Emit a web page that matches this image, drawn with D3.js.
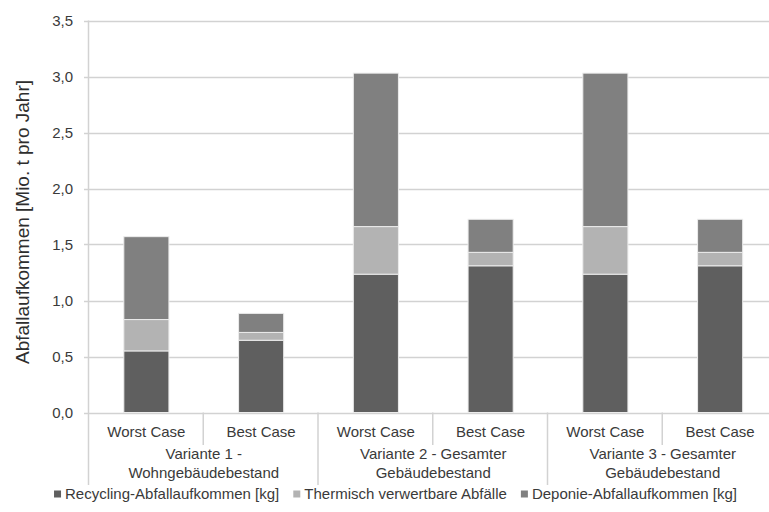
<!DOCTYPE html>
<html>
<head>
<meta charset="utf-8">
<script src="https://cdn.jsdelivr.net/npm/d3@7"></script>
<style>
  html, body { margin: 0; padding: 0; background: #fff; }
  svg { display: block; font-family: "Liberation Sans", Arial, sans-serif; }
</style>
</head>
<body>
<svg id="chart" width="769" height="512"></svg>
<script>
// Categories (inner level) and their groups (outer level)
const cases = ["Worst Case", "Best Case", "Worst Case", "Best Case", "Worst Case", "Best Case"];
const groups = [
  ["Variante 1 -", "Wohngebäudebestand"],
  ["Variante 2 - Gesamter", "Gebäudebestand"],
  ["Variante 3 - Gesamter", "Gebäudebestand"]
];
const seriesNames = ["Recycling-Abfallaufkommen [kg]", "Thermisch verwertbare Abfälle", "Deponie-Abfallaufkommen [kg]"];
const recycling = [0.55, 0.645, 1.235, 1.31, 1.235, 1.31];
const thermisch = [0.28, 0.07, 0.425, 0.12, 0.425, 0.12];
const deponie  = [0.74, 0.17, 1.37, 0.295, 1.37, 0.295];
const yTicks = [0, 0.5, 1.0, 1.5, 2.0, 2.5, 3.0, 3.5];
const yTitle = "Abfallaufkommen [Mio. t pro Jahr]";
const colors = ["#5f5f5f", "#b3b3b3", "#808080"];

const svg = d3.select("#chart");
const plotLeft = 89, plotRight = 777.5, plotTop = 20.5, plotBottom = 412.5;

const idx = d3.range(cases.length);
const x = d3.scaleBand().domain(idx).range([plotLeft, plotRight]).padding(0);
const y = d3.scaleLinear().domain([0, 3.5]).range([plotBottom, plotTop]);
const barW = x.bandwidth() * 0.393;

const fmt = v => d3.format(".1f")(v).replace(".", ",");
const textColor = "#3a3a3a";
const lineColor = "#d2d2d2";
const labelSize = 15;

// Horizontal gridlines with outside tick marks
svg.append("g")
  .selectAll("line")
  .data(yTicks)
  .join("line")
  .attr("x1", plotLeft - 5)
  .attr("x2", plotRight)
  .attr("y1", d => Math.round(y(d)) + 0.5)
  .attr("y2", d => Math.round(y(d)) + 0.5)
  .attr("stroke", lineColor)
  .attr("stroke-width", 1.5);

// Y tick labels
svg.append("g")
  .selectAll("text")
  .data(yTicks)
  .join("text")
  .attr("x", 73)
  .attr("y", d => y(d))
  .attr("dy", "0.35em")
  .attr("text-anchor", "end")
  .attr("font-size", labelSize)
  .attr("fill", textColor)
  .text(fmt);

// Stacked bars
const rows = idx.map(i => ({ i, recycling: recycling[i], thermisch: thermisch[i], deponie: deponie[i] }));
const stack = d3.stack().keys(["recycling", "thermisch", "deponie"]);
const layers = stack(rows);

svg.append("g")
  .selectAll("g")
  .data(layers)
  .join("g")
  .attr("fill", (d, k) => colors[k])
  .selectAll("rect")
  .data(d => d)
  .join("rect")
  .attr("x", d => x(d.data.i) + (x.bandwidth() - barW) / 2)
  .attr("y", d => y(d[1]))
  .attr("width", barW)
  .attr("height", d => y(d[0]) - y(d[1]))
  .attr("stroke", "#ececec")
  .attr("stroke-width", 1);

// Vertical axis line
svg.append("line")
  .attr("x1", plotLeft - 0.5).attr("x2", plotLeft - 0.5)
  .attr("y1", plotTop).attr("y2", 485)
  .attr("stroke", lineColor).attr("stroke-width", 1.5);

// Category separators: short between cases, long between groups
idx.slice(1).forEach(i => {
  const xx = x(i) - 0.5;
  const long = i % 2 === 0;
  svg.append("line")
    .attr("x1", xx).attr("x2", xx)
    .attr("y1", plotBottom).attr("y2", long ? 485 : 445)
    .attr("stroke", lineColor).attr("stroke-width", 1.5);
});

// Case labels
svg.append("g")
  .selectAll("text")
  .data(idx)
  .join("text")
  .attr("x", i => x(i) + x.bandwidth() / 2)
  .attr("y", 432)
  .attr("dy", "0.35em")
  .attr("text-anchor", "middle")
  .attr("font-size", labelSize)
  .attr("fill", textColor)
  .text(i => cases[i]);

// Group labels (two lines each)
groups.forEach((g, k) => {
  const cx = x(k * 2) + x.bandwidth();
  g.forEach((line, j) => {
    svg.append("text")
      .attr("x", cx)
      .attr("y", 454 + j * 19)
      .attr("dy", "0.35em")
      .attr("text-anchor", "middle")
      .attr("font-size", labelSize)
      .attr("fill", textColor)
      .text(line);
  });
});

// Y axis title
svg.append("text")
  .attr("transform", "translate(22,222) rotate(-90)")
  .attr("dy", "0.35em")
  .attr("text-anchor", "middle")
  .attr("font-size", 19)
  .attr("fill", "#2e2e2e")
  .text(yTitle);

// Legend: markers and labels laid out from measured text widths, right end fixed
const legend = svg.append("g");
const markerSize = 7, markerGap = 4, itemGap = 14, legendRight = 737, legendY = 494;
const items = seriesNames.map((name, k) => {
  const t = legend.append("text")
    .attr("y", legendY)
    .attr("dy", "0.35em")
    .attr("font-size", labelSize)
    .attr("fill", textColor)
    .text(name);
  const r = legend.append("rect")
    .attr("width", markerSize).attr("height", markerSize)
    .attr("y", legendY - markerSize / 2)
    .attr("fill", colors[k]);
  return { t, r, w: markerSize + markerGap + t.node().getComputedTextLength() };
});
const totalW = d3.sum(items, d => d.w) + itemGap * (items.length - 1);
let cursor = legendRight - totalW;
items.forEach(d => {
  d.r.attr("x", cursor);
  d.t.attr("x", cursor + markerSize + markerGap);
  cursor += d.w + itemGap;
});
</script>
</body>
</html>
